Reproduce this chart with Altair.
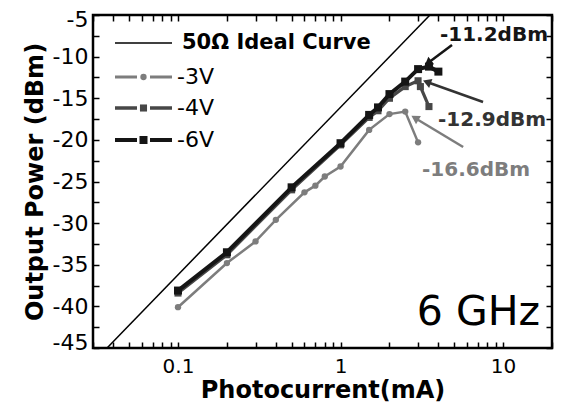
import altair as alt
import pandas as pd

# ---------------- data ----------------
ideal_I = [0.0366, 3.55]
ideal_P = [-45.0, -5.0]

v3_I = [0.1, 0.2, 0.3, 0.4, 0.6, 0.7, 0.8, 1.0, 1.5, 2.0, 2.5, 3.0]
v3_P = [-40.1, -34.8, -32.2, -29.6, -26.3, -25.5, -24.4, -23.2, -18.8, -16.9, -16.6, -20.3]

v4_I = [0.1, 0.2, 0.5, 1.0, 1.5, 1.7, 2.0, 2.5, 3.0, 3.1, 3.5]
v4_P = [-38.4, -33.8, -26.0, -20.6, -17.3, -16.5, -15.0, -13.6, -12.9, -13.6, -16.0]

v6_I = [0.1, 0.2, 0.5, 1.0, 1.5, 1.7, 2.0, 2.5, 3.0, 3.5, 4.0]
v6_P = [-38.1, -33.5, -25.7, -20.4, -17.0, -16.1, -14.5, -13.0, -11.5, -11.2, -11.8]

legend_labels = ["50\u03a9 Ideal Curve", "-3V", "-4V", "-6V"]

ann_text = ["-11.2dBm", "-12.9dBm", "-16.6dBm"]
ann_x = [8.79, 8.55, 6.82]
ann_y = [-7.4, -17.6, -23.6]
arrow_x0 = [4.85, 7.53, 5.68]
arrow_y0 = [-8.6, -15.45, -20.86]
arrow_x1 = [3.45, 3.40, 2.87]
arrow_y1 = [-10.77, -13.05, -17.37]

freq_text = "6 GHz"
freq_x = 16.9
freq_y = -42.2

x_ticks = [0.03, 0.04, 0.05, 0.06, 0.07, 0.08, 0.09,
           0.1, 0.2, 0.3, 0.4, 0.5, 0.6, 0.7, 0.8, 0.9,
           1, 2, 3, 4, 5, 6, 7, 8, 9, 10, 20]
x_tick_labels = [0.1, 1, 10]
y_ticks = [-45, -42.5, -40, -37.5, -35, -32.5, -30, -27.5, -25, -22.5, -20,
           -17.5, -15, -12.5, -10, -7.5, -5]

# ---------------- styles ----------------
FONT = "DejaVu Sans"
C3, C4, C6 = "#7d7d7d", "#474747", "#151515"
ann_colors = [C6, "#333333", C3]
arrow_angles = [233, 290, 301]

xscale = alt.Scale(type="log", domain=[0.03, 20], nice=False)
yscale = alt.Scale(domain=[-45, -5], nice=False)

xlab_expr = " || ".join(f"datum.value == {v}" for v in x_tick_labels)
x_label_expr = f"({xlab_expr}) ? ('' + datum.value) : ''"
y_label_expr = "datum.value % 5 == 0 ? ('' + datum.value) : ''"

common_axis = dict(grid=False, domain=False, tickColor="black", tickWidth=1.5,
                   tickSize=6, offset=-6, labelFont=FONT, labelColor="black",
                   titleFont=FONT, titleColor="black", titleFontWeight="bold",
                   titleFontSize=24, labelOverlap=False)

ax_bottom = alt.Axis(orient="bottom", values=x_ticks, labelExpr=x_label_expr,
                     labelFontSize=20, labelPadding=8, title="Photocurrent(mA)",
                     titlePadding=2, **common_axis)
ax_left = alt.Axis(orient="left", values=y_ticks, labelExpr=y_label_expr,
                   labelFontSize=22, labelPadding=5, title="Output Power (dBm)",
                   titlePadding=5, labelFlush=True, labelFlushOffset=6, **common_axis)
ax_top = alt.Axis(orient="top", values=x_ticks, labels=False, title=None,
                  **{k: v for k, v in common_axis.items() if not k.startswith("title")})
ax_right = alt.Axis(orient="right", values=y_ticks, labels=False, title=None,
                    **{k: v for k, v in common_axis.items() if not k.startswith("title")})


def df(xs, ys):
    return pd.DataFrame({"I": xs, "P": ys})


# ideal line with main axes
ideal = alt.Chart(df(ideal_I, ideal_P)).mark_line(color="black", strokeWidth=1.5, clip=True).encode(
    x=alt.X("I:Q", scale=xscale, axis=ax_bottom),
    y=alt.Y("P:Q", scale=yscale, axis=ax_left),
)

# mirrored axes
mirror = alt.Chart(df(ideal_I, ideal_P)).mark_line(opacity=0).encode(
    x=alt.X("I:Q", scale=xscale, axis=ax_top),
    y=alt.Y("P:Q", scale=yscale, axis=ax_right),
)


def series(xs, ys, color, width, shape, size):
    base = alt.Chart(df(xs, ys)).encode(
        x=alt.X("I:Q", scale=xscale, axis=None),
        y=alt.Y("P:Q", scale=yscale, axis=None),
    )
    line = base.mark_line(color=color, strokeWidth=width, clip=True)
    pts = base.mark_point(color=color, filled=True, opacity=1, shape=shape, size=size, clip=True)
    return line + pts


s3 = series(v3_I, v3_P, C3, 2.5, "circle", 40)
s4 = series(v4_I, v4_P, C4, 3.2, "square", 50)
s6 = series(v6_I, v6_P, C6, 4, "square", 64)

# annotations
ann_df = pd.DataFrame({"t": ann_text, "x": ann_x, "y": ann_y,
                       "x0": arrow_x0, "y0": arrow_y0, "x1": arrow_x1, "y1": arrow_y1,
                       "c": ann_colors, "a": arrow_angles})
ann_base = alt.Chart(ann_df)
ann_txt = ann_base.mark_text(font=FONT, fontSize=20, fontWeight="bold", align="center",
                             baseline="middle").encode(
    x=alt.X("x:Q", scale=xscale, axis=None),
    y=alt.Y("y:Q", scale=yscale, axis=None),
    text="t:N",
    color=alt.Color("c:N", scale=None),
)
arrow_line = ann_base.mark_rule(strokeWidth=2.5).encode(
    x=alt.X("x0:Q", scale=xscale, axis=None),
    y=alt.Y("y0:Q", scale=yscale, axis=None),
    x2="x1:Q", y2="y1:Q",
    color=alt.Color("c:N", scale=None),
)
arrow_head = ann_base.mark_point(shape="triangle-up", filled=True, opacity=1, size=90).encode(
    x=alt.X("x1:Q", scale=xscale, axis=None),
    y=alt.Y("y1:Q", scale=yscale, axis=None),
    angle=alt.Angle("a:Q", scale=None),
    color=alt.Color("c:N", scale=None),
)

freq = alt.Chart(pd.DataFrame({"x": [freq_x], "y": [freq_y], "t": [freq_text]})).mark_text(
    font=FONT, fontSize=41, align="right", baseline="alphabetic", color="black").encode(
    x=alt.X("x:Q", scale=xscale, axis=None),
    y=alt.Y("y:Q", scale=yscale, axis=None),
    text="t:N",
)

# legend (drawn in pixel positions inside the plot)
one = alt.Data(values=[{}])
leg_rows = [28, 62, 93, 125]
leg_layers = []
leg_layers.append(alt.Chart(one).mark_rule(color="black", strokeWidth=1.5).encode(
    x=alt.value(22), x2=alt.value(79), y=alt.value(leg_rows[0])))
leg_layers.append(alt.Chart(one).mark_text(font=FONT, fontSize=21, fontWeight="bold", align="left",
                                           baseline="middle", color="black").encode(
    x=alt.value(89), y=alt.value(leg_rows[0]), text=alt.value(legend_labels[0])))
for row, col, w, shp, sz, lab in [(leg_rows[1], C3, 3, "circle", 40, legend_labels[1]),
                                  (leg_rows[2], C4, 3.5, "square", 50, legend_labels[2]),
                                  (leg_rows[3], C6, 4, "square", 64, legend_labels[3])]:
    leg_layers.append(alt.Chart(one).mark_rule(color=col, strokeWidth=w, strokeDash=[22, 13]).encode(
        x=alt.value(22), x2=alt.value(79), y=alt.value(row)))
    leg_layers.append(alt.Chart(one).mark_point(color=col, filled=True, opacity=1, shape=shp, size=sz).encode(
        x=alt.value(50.5), y=alt.value(row)))
    leg_layers.append(alt.Chart(one).mark_text(font=FONT, fontSize=22, align="left", baseline="middle",
                                               color="black").encode(
        x=alt.value(84), y=alt.value(row), text=alt.value(lab)))

chart = alt.layer(ideal, mirror, s3, s4, s6, arrow_line, arrow_head, ann_txt, freq, *leg_layers).resolve_axis(
    x="independent", y="independent"
).properties(
    width=459, height=333,
    autosize=alt.AutoSizeParams(type="none"),
    padding={"left": 85, "top": 7, "right": 3, "bottom": 58},
).configure_view(stroke="black", strokeWidth=2.5)

chart.save("out.html", embed_options={"renderer": "svg", "actions": False})
